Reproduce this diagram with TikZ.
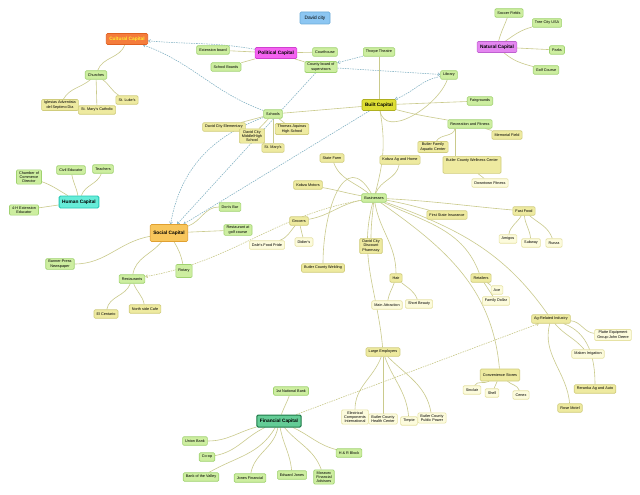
\documentclass[tikz,border=0pt]{standalone}
\usepackage{fontspec}
\setmainfont{Liberation Sans}
\usetikzlibrary{arrows.meta}
\pgfdeclarelayer{bg}
\pgfsetlayers{bg,main}
\definecolor{gfill}{HTML}{CDEEA0}\definecolor{gdraw}{HTML}{A0D270}
\definecolor{yfill}{HTML}{EEEAA0}\definecolor{ydraw}{HTML}{D0CC7C}
\definecolor{pfill}{HTML}{FCFBDC}\definecolor{pdraw}{HTML}{E6E2A4}
\definecolor{lineC}{HTML}{CACA8C}\definecolor{blueC}{HTML}{80B0C2}
\definecolor{bluef}{HTML}{8CC6F2}\definecolor{blued}{HTML}{6AAAD8}
\definecolor{orangef}{HTML}{F47C3C}\definecolor{oranged}{HTML}{E06020}\definecolor{yellowt}{HTML}{FFEE33}
\definecolor{magf}{HTML}{F462F0}\definecolor{magd}{HTML}{D040D0}
\definecolor{violf}{HTML}{E486F0}\definecolor{viold}{HTML}{C060D0}
\definecolor{builtf}{HTML}{DEDE34}\definecolor{builtd}{HTML}{B0B020}
\definecolor{humf}{HTML}{66ECD8}\definecolor{humd}{HTML}{22C8B4}
\definecolor{socf}{HTML}{F8C65C}\definecolor{socd}{HTML}{E0A030}
\definecolor{finf}{HTML}{64CC96}\definecolor{find}{HTML}{1E7A48}
\tikzset{
 base/.style={rounded corners=1.2pt, inner xsep=2.6pt, inner ysep=1.6pt, minimum height=8.5pt,
   font=\fontsize{3.8}{4.2}\selectfont, align=center, line width=0.6pt},
 gn/.style={base, fill=gfill, draw=gdraw},
 yn/.style={base, fill=yfill, draw=ydraw},
 pn/.style={base, fill=pfill, draw=pdraw},
 capn/.style={base, font=\fontsize{4.8}{5.2}\selectfont\bfseries, inner xsep=3pt, minimum height=11pt},
 ln/.style={draw=lineC, line width=0.6pt},
 bl/.style={draw=blueC, line width=0.55pt, dash pattern=on 1.5pt off 1pt, -{Straight Barb[length=2pt,width=3pt]}},
 od/.style={draw=lineC, line width=0.6pt, dash pattern=on 1.5pt off 1pt, -{Straight Barb[length=2pt,width=3pt]}},
}
\begin{document}
\begin{tikzpicture}[x=1pt,y=1pt]
\useasboundingbox (0,0) rectangle (640,-495);
% capitals
\node[capn, fill=bluef, draw=blued, font=\fontsize{4.8}{5.2}\selectfont, minimum height=12pt, minimum width=30pt] (david) at (315,-18) {David city};
\node[capn, fill=orangef, draw=oranged, text=yellowt] (cult) at (127,-39) {Cultural Capital};
\node[capn, fill=magf, draw=magd] (pol) at (276,-53) {Political Capital};
\node[capn, fill=violf, draw=viold] (nat) at (497,-47) {Natural Capital};
\node[capn, fill=builtf, draw=builtd] (built) at (379,-105) {Built Capital};
\node[capn, fill=humf, draw=humd, line width=0.9pt, minimum height=12pt] (hum) at (79,-202) {Human Capital};
\node[capn, fill=socf, draw=socd, minimum height=17pt] (soc) at (169,-233) {Social Capital};
\node[capn, fill=finf, draw=find, line width=1pt, minimum height=12pt] (fin) at (279,-421) {Financial Capital};
% green
\node[gn] (ext) at (213,-50) {Extension board};
\node[gn] (sboards) at (226,-67) {School Boards};
\node[gn] (court) at (325,-52) {Courthouse};
\node[gn] (county) at (321,-67) {County board of\\supervisors};
\node[gn] (thorpe) at (379,-52) {Thorpe Theatre};
\node[gn] (library) at (449,-75) {Library};
\node[gn] (fair) at (480,-101) {Fairgrounds};
\node[gn] (rec) at (470,-124) {Recreation and Fitness};
\node[gn] (soccer) at (509,-13) {Soccer Fields};
\node[gn] (tree) at (547,-23) {Tree City USA};
\node[gn] (parks) at (557,-50) {Parks};
\node[gn] (golf) at (546,-70) {Golf Course};
\node[gn] (churches) at (96,-75) {Churches};
\node[gn] (schools) at (273,-114) {Schools};
\node[gn] (chamber) at (29,-177) {Chamber of\\Commerce\\Director};
\node[gn] (civil) at (71,-170) {Civil Educator};
\node[gn] (teachers) at (103,-169) {Teachers};
\node[gn] (fourh) at (24,-210) {4-H Extension\\Educator};
\node[gn] (banner) at (60,-264) {Banner-Press\\Newspaper};
\node[gn] (rest) at (132,-279) {Restaurants};
\node[gn, minimum height=13pt] (rotary) at (184,-271) {Rotary};
\node[gn] (dons) at (230,-207) {Don's Bar};
\node[gn] (golfrest) at (238,-230) {Restaurant at\\golf course};
\node[gn] (bus) at (374,-198) {Businesses};
\node[gn] (natbank) at (291,-391) {1st National Bank};
\node[gn] (union) at (195,-441) {Union Bank};
\node[gn] (coop) at (207,-457) {Co-op};
\node[gn] (valley) at (201,-477) {Bank of the Valley};
\node[gn] (jonesf) at (250,-478) {Jones Financial};
\node[gn] (edward) at (292,-475) {Edward Jones};
\node[gn] (moravec) at (324,-477) {Moravec\\Financial\\Advisors};
\node[gn] (hr) at (349,-453) {H \& R Block};
% yellow
\node[yn] (iglesias) at (60,-105) {Iglesias Adventista\\del Septimo Dia};
\node[yn] (stmaryc) at (97,-110) {St. Mary's Catholic};
\node[yn] (stluke) at (127,-100) {St. Luke's};
\node[yn] (elem) at (224,-127) {David City Elementary};
\node[yn] (midhigh) at (252,-136) {David City\\Middle/High\\School};
\node[yn] (aquinas) at (292,-129) {Thomas Aquinas\\High School};
\node[yn] (stmarys) at (273,-148) {St. Mary's};
\node[yn] (memorial) at (507,-135) {Memorial Field};
\node[yn] (aquatic) at (433,-147) {Butler Family\\Aquatic Center};
\node[yn, minimum width=58pt, minimum height=17pt, anchor=north] (wellness) at (472,-156) {};
\node[font=\fontsize{3.8}{4.2}\selectfont, inner sep=0pt] (wellnesst) at (472,-161) {Butler County Wellness Center};
\node[yn] (elc) at (106,-314) {El Centario};
\node[yn] (north) at (145,-309) {North side Cafe};
\node[yn] (kobzam) at (308,-185) {Kobza Motors};
\node[yn] (grocers) at (299,-221) {Grocers};
\node[yn] (welding) at (323,-268) {Butler County Welding};
\node[yn] (statefarm) at (332,-158) {State Farm};
\node[yn] (kobzaag) at (400,-160) {Kobza Ag and Home};
\node[yn] (fsi) at (447,-215) {First State Insurance};
\node[yn] (pharm) at (371,-246) {David City\\Discount\\Pharmacy};
\node[yn] (hair) at (396,-278) {Hair};
\node[yn] (fastfood) at (524,-211) {Fast Food};
\node[yn] (retailers) at (481,-278) {Retailers};
\node[yn] (ag) at (551,-319) {Ag-Related Industry};
\node[yn] (reranka) at (595,-389) {Reranka Ag and Auto};
\node[yn] (rose) at (570,-408) {Rose Motel};
\node[yn, minimum height=12pt] (conv) at (500,-375) {Convenience Stores};
\node[yn] (large) at (383,-352) {Large Employers};
% pale
\node[pn] (downtown) at (490,-183) {Downtown Fitness};
\node[pn] (dales) at (267,-245) {Dale's Food Pride};
\node[pn] (didiers) at (304,-242) {Didier's};
\node[pn] (mainattr) at (387,-305) {Main Attraction};
\node[pn] (shortb) at (419,-304) {Short Beauty};
\node[pn] (amigos) at (508,-239) {Amigos};
\node[pn] (subway) at (531,-243) {Subway};
\node[pn] (runza) at (554,-243) {Runza};
\node[pn] (ace) at (497,-290) {Ace};
\node[pn] (famd) at (496,-301) {Family Dollar};
\node[pn] (platte) at (613,-335) {Platte Equipment\\Group-John Deere};
\node[pn] (maken) at (588,-354) {Maken Irrigation};
\node[pn] (sinclair) at (472,-390) {Sinclair};
\node[pn] (shell) at (492,-393) {Shell};
\node[pn] (cenex) at (521,-395) {Cenex};
\node[pn] (eci) at (355,-417) {Electrical\\Components\\International};
\node[pn] (bchc) at (383,-419) {Butler County\\Health Center};
\node[pn] (timpte) at (409,-421) {Timpte};
\node[pn] (bcpp) at (432,-418) {Butler County\\Public Power};
% edges
\begin{pgfonlayer}{bg}
\fill[white] (0,0) rectangle (640,-495);
% natural
\draw[ln] (nat) to[out=75,in=-110] (soccer);
\draw[ln] (nat) to[out=35,in=195] (tree);
\draw[ln] (nat) -- (parks);
\draw[ln] (nat) to[out=-40,in=165] (golf);
% cultural
\draw[ln] (cult) to[out=-110,in=70] (churches);
\draw[ln] (churches) to[out=-140,in=60] (iglesias);
\draw[ln] (churches) -- (stmaryc);
\draw[ln] (churches) to[out=-35,in=150] (stluke);
% political
\draw[ln] (pol) -- (ext);
\draw[ln] (pol) -- (sboards);
\draw[ln] (pol) -- (court);
\draw[ln] (pol) -- (county);
\draw[bl] (pol) to[out=170,in=-5] (cult);
\draw[bl] (schools) to[out=160,in=-20] (cult);
\draw[bl] (thorpe) -- (county);
\draw[bl] (county) -- (library);
\draw[bl] (library) to[out=190,in=20] (built);
% built
\draw[ln] (built) -- (thorpe);
\draw[ln] (built) to[out=-80,in=-110] (library);
\draw[ln] (built) -- (fair);
\draw[ln] (built) to[out=-15,in=170] (rec);
\draw[ln] (built) -- (schools);
\draw[ln] (built) to[out=-80,in=75] (bus);
% recreation
\draw[ln] ([xshift=-15pt]rec.south) to[out=-100,in=60] (aquatic);
\draw[ln] ([xshift=-15pt]rec.south) -- ([xshift=-17pt]wellness.north);
\draw[ln] (rec) -- (memorial);
\draw[ln] ([xshift=6pt]wellness.south) -- (downtown);
% schools
\draw[ln] (schools) -- (elem);
\draw[ln] (schools) -- (midhigh);
\draw[ln] (schools) -- (aquinas);
\draw[ln] (schools) -- (stmarys);
% blue into social
\draw[bl] (built) -- (soc);
\draw[bl] (county) -- (soc);
\draw[bl] (schools) to[out=-160,in=80] (soc);
% social
\draw[ln] (soc) to[out=190,in=0] (banner);
\draw[ln] (soc) to[out=-130,in=80] (rest);
\draw[ln] (soc) to[out=-60,in=100] (rotary);
\draw[ln] (soc) to[out=20,in=180] (dons);
\draw[ln] (soc) -- (golfrest);
\draw[ln] (rest) to[out=-110,in=80] (elc);
\draw[ln] (rest) to[out=-70,in=100] (north);
\draw[od] (bus) to[out=190,in=10] (rest);
% human
\draw[ln] (hum) to[out=150,in=-20] (chamber);
\draw[ln] (hum) to[out=100,in=-80] (civil);
\draw[ln] (hum) to[out=70,in=-110] (teachers);
\draw[ln] (hum) -- (fourh);
% businesses
\draw[ln] (bus) to[out=170,in=-10] (kobzam);
\draw[ln] (bus) to[out=140,in=-70] (statefarm);
\draw[ln] (bus) to[out=70,in=-100] (kobzaag);
\draw[ln] (bus) to[out=190,in=10] (grocers);
\draw[ln] (bus) to[out=120,in=90,looseness=1.6] (welding);
\draw[ln] (bus) to[out=-95,in=90] (pharm);
\draw[ln] (bus) to[out=-80,in=90] (hair);
\draw[ln] (bus) to[out=-10,in=165] (fsi);
\draw[ln] (bus) to[out=-3,in=175] (fastfood);
\draw[ln] (bus) to[out=-25,in=110] (retailers);
\draw[ln] (bus) to[out=-20,in=125] (ag);
\draw[ln] (bus) to[out=-35,in=95] (conv);
\draw[ln] (bus) to[out=-105,in=95] (large);
\draw[ln] (grocers) to[out=-130,in=20] (dales);
\draw[ln] (grocers) -- (didiers);
\draw[ln] (hair) to[out=-110,in=80] (mainattr);
\draw[ln] (hair) to[out=-40,in=110] (shortb);
\draw[ln] (fastfood) to[out=-120,in=80] (amigos);
\draw[ln] (fastfood) to[out=-85,in=95] (subway);
\draw[ln] (fastfood) to[out=-40,in=110] (runza);
\draw[ln] (retailers) -- (ace);
\draw[ln] (retailers) -- (famd);
\draw[ln] (ag) to[out=-5,in=175] (platte);
\draw[ln] (ag) to[out=-50,in=130] (maken);
\draw[ln] (ag) to[out=-20,in=90] (reranka);
\draw[ln] (ag) to[out=-105,in=95] (rose);
\draw[ln] (conv) to[out=-150,in=60] (sinclair);
\draw[ln] (conv) -- (shell);
\draw[ln] (conv) to[out=-40,in=110] (cenex);
\draw[ln] (large) to[out=-110,in=90] (eci);
\draw[ln] (large) -- (bchc);
\draw[ln] (large) to[out=-70,in=95] (timpte);
\draw[ln] (large) to[out=-45,in=100] (bcpp);
% financial
\draw[ln] (fin) to[out=70,in=-110] (natbank);
\draw[ln] (fin) to[out=195,in=0] (union);
\draw[ln] (fin) to[out=205,in=10] (coop);
\draw[ln] (fin) to[out=-120,in=30] (valley);
\draw[ln] (fin) to[out=-100,in=80] (jonesf);
\draw[ln] (fin) to[out=-80,in=95] (edward);
\draw[ln] (fin) to[out=-50,in=110] (moravec);
\draw[ln] (fin) to[out=-25,in=165] (hr);
\draw[od] (fin) -- (ag);
\end{pgfonlayer}
\end{tikzpicture}
\end{document}
